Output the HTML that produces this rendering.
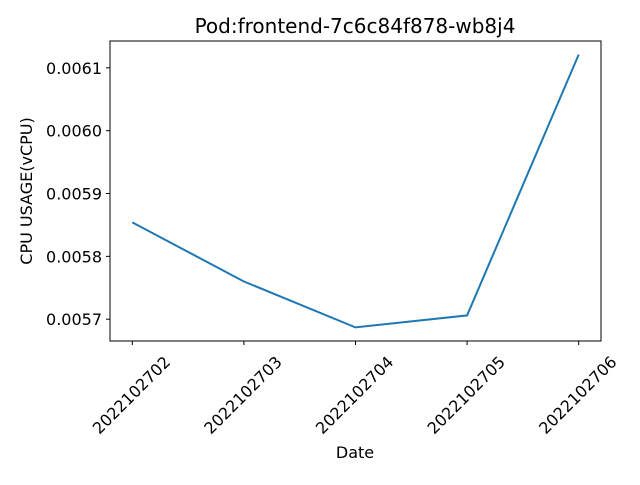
<!DOCTYPE html>
<html><head><meta charset="utf-8"><style>
body{margin:0;background:#fff;}
svg{font-family:"DejaVu Sans","Liberation Sans",sans-serif;}
</style></head><body>
<svg id="chart" width="640" height="480">
<rect width="640" height="480" fill="#fff"/>
<text x="355" y="33" font-size="20" text-anchor="middle">Pod:frontend-7c6c84f878-wb8j4</text>
<g id="plot"></g>
<text x="355" y="458" font-size="16" text-anchor="middle">Date</text>
<text transform="translate(32,191) rotate(-90)" font-size="16" text-anchor="middle">CPU USAGE(vCPU)</text>
<rect x="110" y="41" width="491" height="300" fill="none" stroke="#000" stroke-width="1"/>
</svg>
<script>
const categories=["2022102702","2022102703","2022102704","2022102705","2022102706"];
const values=[0.005854,0.00576,0.005687,0.005706,0.006121];
const yTicks=[0.0057,0.0058,0.0059,0.0060,0.0061];
const yTickLabels=["0.0057","0.0058","0.0059","0.0060","0.0061"];
const L=110,R=601,T=41,B=341;
const ns="http://www.w3.org/2000/svg";
const g=document.getElementById('plot');
const mn=Math.min(...values),mx=Math.max(...values),pad=(mx-mn)*0.05;
const y0=mn-pad,y1=mx+pad;
const n=categories.length;
function xs(i){return L+(i+0.2)/(n-1+0.4)*(R-L);}
function ys(v){return B-(v-y0)/(y1-y0)*(B-T);}
function mk(t,a){const e=document.createElementNS(ns,t);for(const k in a)e.setAttribute(k,a[k]);g.appendChild(e);return e;}
yTicks.forEach((v,i)=>{const y=ys(v);
 const tk=mk('line',{x1:L-4,x2:L,y1:y,y2:y,stroke:'#000'});
 
 
 const t=mk('text',{x:L-8,y:y+6,'font-size':16,'text-anchor':'end'});t.textContent=yTickLabels[i];
 
 
});
categories.forEach((c,i)=>{const x=xs(i);
 const tk=mk('line',{x1:x,x2:x,y1:B,y2:B+4,stroke:'#000'});
 
 
 const t=mk('text',{transform:`translate(${x+3},${B+58}) rotate(-45)`,'font-size':16,'text-anchor':'middle'});t.textContent=c;
 
 
});
const p=mk('polyline',{points:values.map((v,i)=>xs(i)+','+ys(v)).join(' '),fill:'none',stroke:'#1f77b4','stroke-width':2});


</script>
</body></html>
